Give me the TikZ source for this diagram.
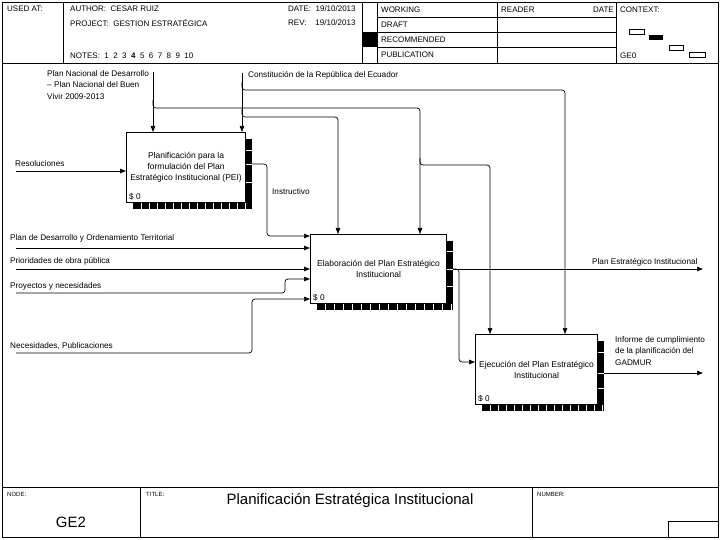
\documentclass[tikz,border=0pt]{standalone}
\usepackage{fontspec}
\setmainfont{Liberation Sans}
\usetikzlibrary{arrows.meta,calc}
\tikzset{
  arr/.style={draw, line width=0.7pt, -{Triangle[length=6pt,width=4.5pt]}, rounded corners=3pt},
  procbox/.style={draw, fill=white, line width=1.1pt, anchor=north west, align=center,
    font=\fontsize{8.5}{11}\selectfont, inner sep=0pt},
  lbl/.style={font=\fontsize{8.2}{11.8}\selectfont, inner sep=0pt, anchor=west},
  hdr/.style={font=\fontsize{8}{9}\selectfont, inner sep=0pt, anchor=west},
  small/.style={font=\fontsize{6}{8}\selectfont, inner sep=0pt, anchor=west},
  big/.style={font=\fontsize{15}{17}\selectfont, inner sep=0pt},
  gridline/.style={line width=0.7pt},
  shadowtick/.style={white, line width=0.5pt},
  ctx/.style={draw, line width=0.6pt, fill=white},
}
\begin{document}
\begin{tikzpicture}[x=1pt,y=-1pt]
\useasboundingbox (0,0) rectangle (720,540);
% ---------- frame and header ----------
\draw[line width=0.9pt] (2,2) rectangle (718,537);
\draw[gridline] (2,63) -- (718,63);
\foreach \x in {63,362,377,497,616} \draw[gridline] (\x,2) -- (\x,63);
\foreach \y in {17,32,47} \draw[gridline] (377,\y) -- (616,\y);
\fill (362,32) rectangle (377,47);
\node[hdr] (usedat) at (7,9) {USED AT:};
\node[hdr] (author) at (70,9) {AUTHOR:\ \ CESAR RUIZ};
\node[hdr] (project) at (70,23) {PROJECT:\ \ GESTION ESTRATÉGICA};
\node[hdr] (notes) at (70,56) {NOTES:\ \ 1\ \ 2\ \ 3\ \ \textbf{4}\ \ 5\ \ 6\ \ 7\ \ 8\ \ 9\ \ 10};
\node[hdr] (date) at (288,9) {DATE:\ \ 19/10/2013};
\node[hdr] (rev) at (288,23) {REV:\ \ \ \ 19/10/2013};
\node[hdr] (working) at (381,10) {WORKING};
\node[hdr] (draft) at (381,25) {DRAFT};
\node[hdr] (recom) at (381,40) {RECOMMENDED};
\node[hdr] (public) at (381,55) {PUBLICATION};
\node[hdr] (reader) at (501,10) {READER};
\node[hdr, anchor=east] (rdate) at (614,10) {DATE};
\node[hdr] (context) at (620,10) {CONTEXT:};
\node[hdr] (ge0) at (620,56) {GE0};
\draw[ctx] (629,29) rectangle (644,34);
\fill (649,35) rectangle (663,40);
\draw[ctx] (669,45) rectangle (683,50);
\draw[ctx] (689,52) rectangle (705,57);
% ---------- footer ----------
\draw[gridline] (2,487) -- (718,487);
\draw[gridline] (140,487) -- (140,537);
\draw[gridline] (532,487) -- (532,537);
\draw[gridline] (668,521) rectangle (718,537);
\node[small] (nodelbl) at (7,494) {NODE:};
\node[small] (titlelbl) at (146,494) {TITLE:};
\node[small] (numberlbl) at (537,494) {NUMBER:};
\node[big] (nodeid) at (71,522) {GE2};
\node[big] (title) at (350,501) {Planificación Estratégica Institucional};
% ---------- shadows ----------
\fill (133,139) rectangle (252,209);
\foreach \x in {141,149,...,251} \draw[shadowtick] (\x,202.5) -- (\x,209);
\draw[shadowtick] (245.5,150) -- (252,150);
\draw[shadowtick] (245.5,182) -- (252,182);
\fill (317,241) rectangle (453,310);
\foreach \x in {325,334,...,452} \draw[shadowtick] (\x,303.5) -- (\x,310);
\draw[shadowtick] (446.5,251) -- (453,251);
\draw[shadowtick] (446.5,286) -- (453,286);
\fill (482,341) rectangle (604,411);
\foreach \x in {490,498,...,603} \draw[shadowtick] (\x,404.5) -- (\x,411);
\draw[shadowtick] (597.5,352) -- (604,352);
\draw[shadowtick] (597.5,388) -- (604,388);
% ---------- activity boxes ----------
\node[procbox, minimum width=119pt, minimum height=70pt] (b1) at (126,132)
  {Planificación para la\\formulación del Plan\\Estratégico Institucional (PEI)};
\node[procbox, minimum width=136pt, minimum height=69pt] (b2) at (310,234)
  {Elaboración del Plan Estratégico\\Institucional};
\node[procbox, minimum width=122pt, minimum height=70pt] (b3) at (475,334)
  {Ejecución del Plan Estratégico\\Institucional};
\node[lbl, anchor=south west] (b1cost) at ([xshift=3pt,yshift=3pt]b1.south west) {\$ 0};
\node[lbl, anchor=south west] (b2cost) at ([xshift=3pt,yshift=3pt]b2.south west) {\$ 0};
\node[lbl, anchor=south west] (b3cost) at ([xshift=3pt,yshift=3pt]b3.south west) {\$ 0};
% ---------- labels ----------
\node[lbl, anchor=north west, align=left] (pndlbl) at (47,70)
  {Plan Nacional de Desarrollo\\– Plan Nacional del Buen\\Vivir 2009-2013};
\node[lbl] (conlbl) at (248,75) {Constitución de la República del Ecuador};
\node[lbl] (reslbl) at (15,164) {Resoluciones};
\node[lbl] (inslbl) at (272,192) {Instructivo};
\node[lbl] (pdotlbl) at (10,238) {Plan de Desarrollo y Ordenamiento Territorial};
\node[lbl] (priolbl) at (10,261) {Prioridades de obra pública};
\node[lbl] (pynlbl) at (10,286) {Proyectos y necesidades};
\node[lbl] (neclbl) at (10,346) {Necesidades, Publicaciones};
\node[lbl] (peilbl) at (592,262) {Plan Estratégico Institucional};
\node[lbl, anchor=north west, align=left] (inflbl) at (615,336)
  {Informe de cumplimiento\\de la planificación del\\GADMUR};
% ---------- coordinates ----------
\coordinate (pnd) at (153,72);
\coordinate (con) at (242,73);
\coordinate (res) at (16,171);
\coordinate (pdot) at (16,248);
\coordinate (prio) at (16,269);
\coordinate (pyn) at (16,293);
\coordinate (nec) at (16,353);
\coordinate (pei) at (703,269);
\coordinate (inf) at (703,373);
\coordinate (c338) at (338,117);
\coordinate (c420) at (420,108);
\coordinate (c490) at (490,165);
\coordinate (c565) at (565,90);
% ---------- connectors ----------
% Plan Nacional
\draw[arr] (pnd) -- (pnd |- b1.north);
\draw[arr] (153,100) -- (153,108) -- (c420) -- (c420 |- b2.north);
\draw[arr] (420,158) -- (420,165) -- (c490) -- (c490 |- b3.north);
% Constitucion
\draw[arr] (con) -- (con |- b1.north);
\draw[arr] (242,82) -- (242,90) -- (c565) -- (c565 |- b3.north);
\draw[arr] (242,109) -- (242,117) -- (c338) -- (c338 |- b2.north);
% Resoluciones
\draw[arr] (res) -- (res -| b1.west);
% Instructivo
\draw[arr] (b1.east |- 0,164) -- (267,164) -- (267,236) -- (b2.west |- 0,236);
% inputs of box 2
\draw[arr] (pdot) -- (pdot -| b2.west);
\draw[arr] (prio) -- (prio -| b2.west);
\draw[arr] (pyn) -- (285,293) -- (285,279) -- (b2.west |- 0,279);
\draw[arr] (nec) -- (252,353) -- (252,299) -- (b2.west |- 0,299);
% output of box 2
\draw[arr] (pei -| b2.east) -- (pei);
\draw[arr] (452,269) -- (459,269) -- (459,362) -- (b3.west |- 0,362);
% output of box 3
\draw[arr] (inf -| b3.east) -- (inf);
% light segments where arrows cross shadows
\draw[white, line width=0.6pt] (447,269) -- (453,269);
\draw[white, line width=0.6pt] (598,373) -- (604,373);
\draw[white, line width=0.6pt] (246,164) -- (252,164);
\end{tikzpicture}
\end{document}
